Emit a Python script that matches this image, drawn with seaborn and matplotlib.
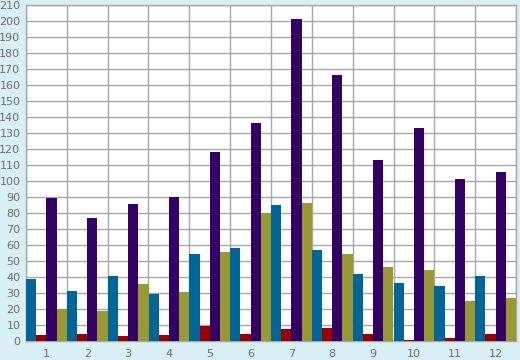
import matplotlib
matplotlib.use("Agg")
import matplotlib.pyplot as plt
import seaborn as sns
import pandas as pd
import numpy as np
from matplotlib.ticker import MultipleLocator, FixedLocator

categories = ["1", "2", "3", "4", "5", "6", "7", "8", "9", "10", "11", "12"]
series_names = ["A", "B", "C", "D"]
blue = [38.5, 31, 40.4, 29.2, 54.2, 57.9, 84.8, 56.7, 41.7, 36, 34.2, 40.4]
red = [3.5, 4.2, 2.9, 3.5, 9.2, 4.2, 7.3, 7.9, 4.2, 0.4, 1.7, 4.2]
purple = [89.2, 76.7, 85.4, 90, 117.9, 136.1, 201.1, 166.1, 112.9, 132.9, 101.1, 105.4]
olive = [19.8, 18.5, 35.4, 30.4, 55.4, 79.8, 86, 54.2, 46, 44.2, 24.8, 26.7]
colors = ["#006699", "#990000", "#330066", "#999933"]

rows = []
for name, vals in zip(series_names, [blue, red, purple, olive]):
    for c, v in zip(categories, vals):
        rows.append({"cat": c, "series": name, "value": v})
df = pd.DataFrame(rows)

sns.set_style("white")
plt.rcParams["font.family"] = ["DejaVu Sans"]

bg = "#d9eff6"
grid = "#a8a8a8"
txt = "#6e6e6e"

fig = plt.figure(figsize=(5.2, 3.6), dpi=100, facecolor=bg)
ax = fig.add_axes([26 / 520, 1 - 340.7 / 360, 490 / 520, (340.7 - 5) / 360])
ax.set_facecolor("white")

sns.barplot(data=df, x="cat", y="value", hue="series", order=categories,
            hue_order=series_names, palette=colors, width=1.0, dodge=True,
            saturation=1.0, errorbar=None, legend=False, ax=ax, zorder=3)
for p in ax.patches:
    p.set_edgecolor("none")
    p.set_linewidth(0)

ax.set_xlim(-0.5, 11.5)
ax.set_ylim(0, 210)
ax.yaxis.set_major_locator(MultipleLocator(10))
ax.xaxis.set_minor_locator(FixedLocator(np.arange(-0.5, 12, 1)))
ax.grid(True, axis="y", which="major", color=grid, linewidth=1, zorder=0)
ax.grid(True, axis="x", which="minor", color=grid, linewidth=1, zorder=0)
ax.grid(False, axis="x", which="major")
ax.set_axisbelow(True)

ax.tick_params(axis="x", which="major", length=0, pad=6, labelsize=8, labelcolor=txt)
ax.tick_params(axis="x", which="minor", length=4, width=1, color=grid, direction="out")
ax.tick_params(axis="y", which="major", length=0, pad=4, labelsize=8, labelcolor=txt)
ax.set_xlabel("")
ax.set_ylabel("")
for s in ax.spines.values():
    s.set_color(grid)
    s.set_linewidth(1)
    s.set_visible(True)

fig.savefig("out.png", dpi=100, facecolor=bg)
